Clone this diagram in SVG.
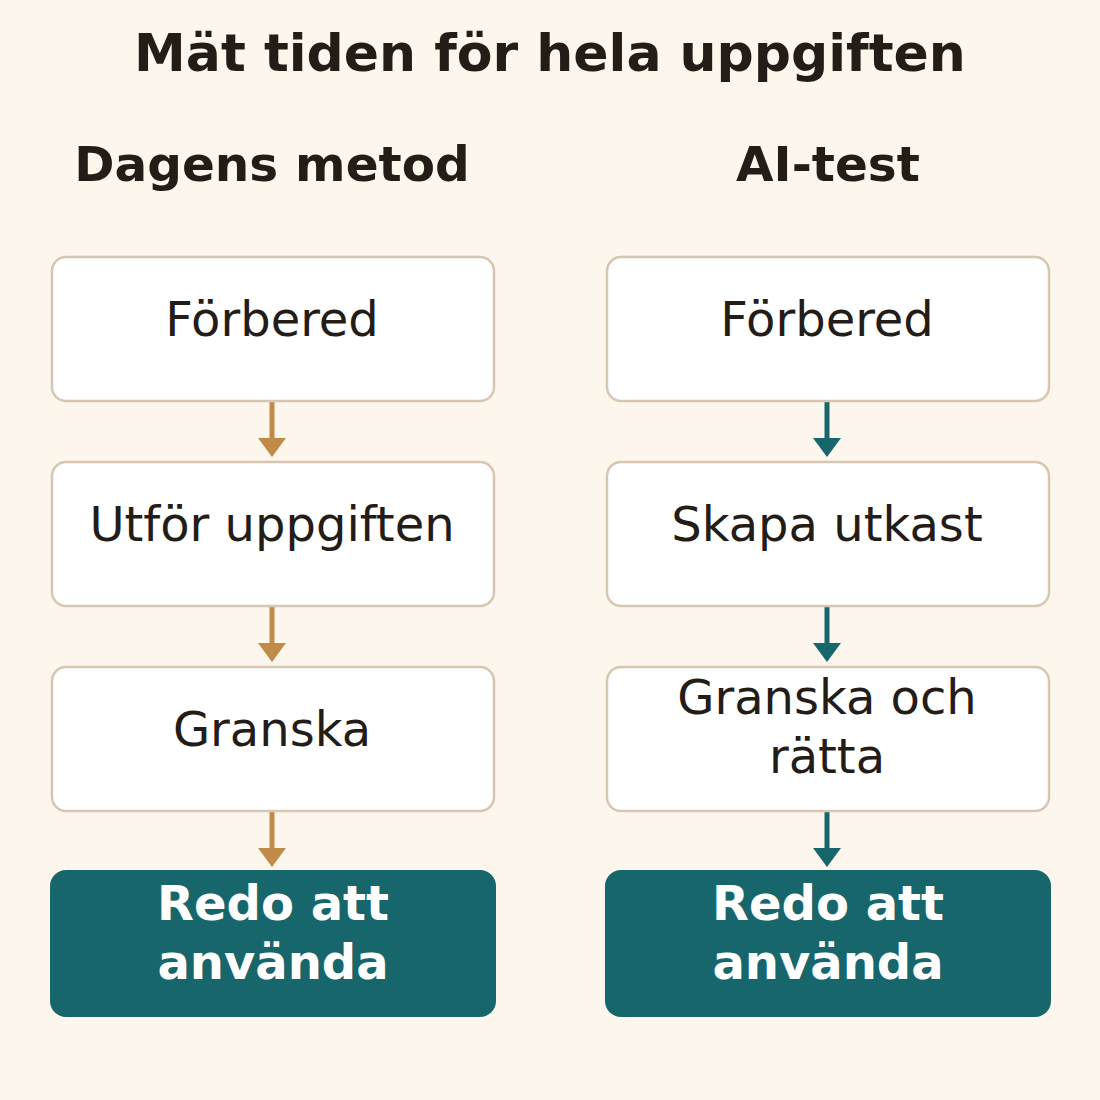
<svg xmlns="http://www.w3.org/2000/svg" width="1100" height="1100" viewBox="0 0 1100 1100">
  <defs>
    <style>
      .bg { fill: #fdf6ed; }
      .box { fill: #ffffff; stroke: #d6c6b2; stroke-width: 2.5; }
      .final { fill: #17666b; }
      .t { font-family: "DejaVu Sans", "Liberation Sans", sans-serif; text-anchor: middle; fill: #231c17; }
      .title { font-size: 52px; font-weight: bold; }
      .head { font-size: 48.5px; font-weight: bold; }
      .lbl { font-size: 48px; }
      .flbl { font-size: 48px; font-weight: bold; fill: #ffffff; }
      .brown { fill: #c08a48; }
      .teal { fill: #17666b; }
    </style>
  </defs>
  <rect class="bg" x="0" y="0" width="1100" height="1100"/>
  <text class="t title" x="550" y="71">Mät tiden för hela uppgiften</text>
  <text class="t head" x="272" y="181">Dagens metod</text>
  <text class="t head" x="828" y="181">AI-test</text>

  <g id="connectors">
    <g class="brown">
      <rect x="269.5" y="402" width="5" height="38"/>
      <polygon points="258,438 286,438 272,457"/>
      <rect x="269.5" y="607" width="5" height="38"/>
      <polygon points="258,643 286,643 272,662"/>
      <rect x="269.5" y="812" width="5" height="38"/>
      <polygon points="258,848 286,848 272,867"/>
    </g>
    <g class="teal">
      <rect x="824.5" y="402" width="5" height="38"/>
      <polygon points="813,438 841,438 827,457"/>
      <rect x="824.5" y="607" width="5" height="38"/>
      <polygon points="813,643 841,643 827,662"/>
      <rect x="824.5" y="812" width="5" height="38"/>
      <polygon points="813,848 841,848 827,867"/>
    </g>
  </g>

  <g id="l1"><rect class="box" x="52" y="257" width="442" height="144" rx="14"/><text class="t lbl" x="272" y="336">Förbered</text></g>
  <g id="l2"><rect class="box" x="52" y="462" width="442" height="144" rx="14"/><text class="t lbl" x="272" y="541">Utför uppgiften</text></g>
  <g id="l3"><rect class="box" x="52" y="667" width="442" height="144" rx="14"/><text class="t lbl" x="272" y="746">Granska</text></g>
  <g id="l4"><rect class="final" x="50" y="870" width="446" height="147" rx="16"/><text class="t flbl" x="273" y="920">Redo att</text><text class="t flbl" x="273" y="979">använda</text></g>

  <g id="r1"><rect class="box" x="607" y="257" width="442" height="144" rx="14"/><text class="t lbl" x="827" y="336">Förbered</text></g>
  <g id="r2"><rect class="box" x="607" y="462" width="442" height="144" rx="14"/><text class="t lbl" x="827" y="541">Skapa utkast</text></g>
  <g id="r3"><rect class="box" x="607" y="667" width="442" height="144" rx="14"/><text class="t lbl" x="827" y="714">Granska och</text><text class="t lbl" x="827" y="773">rätta</text></g>
  <g id="r4"><rect class="final" x="605" y="870" width="446" height="147" rx="16"/><text class="t flbl" x="828" y="920">Redo att</text><text class="t flbl" x="828" y="979">använda</text></g>
</svg>
